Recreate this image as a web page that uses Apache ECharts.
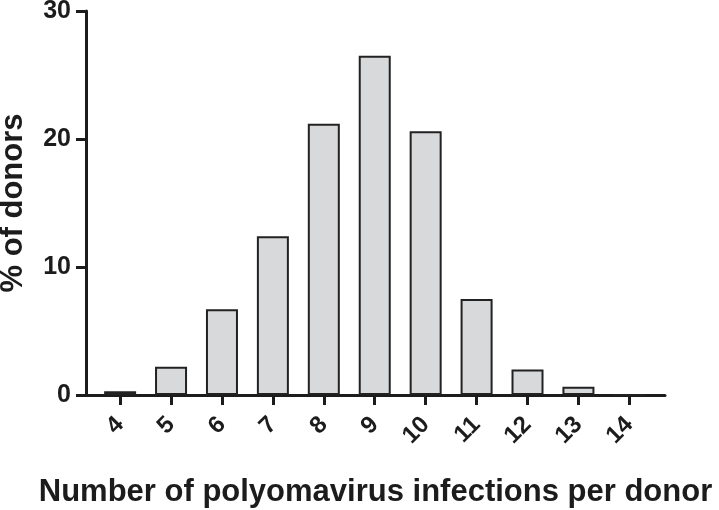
<!DOCTYPE html>
<html>
<head>
<meta charset="utf-8">
<script src="https://cdn.jsdelivr.net/npm/echarts@6/dist/echarts.min.js"></script>
<style>html,body{margin:0;padding:0;background:#fff;}#c{width:719px;height:510px;}</style>
</head>
<body>
<div id="c"></div>
<script>
const categories = [4, 5, 6, 7, 8, 9, 10, 11, 12, 13, 14];
const percentDonors = [0.3, 2.2, 6.7, 12.4, 21.2, 26.5, 20.6, 7.5, 2.0, 0.65, 0];
const yTicks = [0, 10, 20, 30];

const chart = echarts.init(document.getElementById('c'), null, {renderer: 'canvas'});
const font = '"Liberation Sans", Arial, sans-serif';
const ink = '#1c1c1c';
chart.setOption({
  animation: false,
  backgroundColor: '#fff',
  grid: {left: 86, right: 54, top: 11, bottom: 115, containLabel: false, outerBoundsMode: 'none'},
  xAxis: {
    type: 'value',
    min: 3.33,
    max: 14.7,
    name: 'Number of polyomavirus infections per donor',
    nameLocation: 'middle',
    nameGap: 82,
    nameTextStyle: {fontFamily: font, fontWeight: 'bold', fontSize: 31, color: ink},
    axisLine: {show: true, onZero: false, lineStyle: {color: ink, width: 3}},
    axisTick: {show: true, customValues: categories, length: 10, lineStyle: {color: ink, width: 3}},
    axisLabel: {show: true, customValues: categories, rotate: 45, margin: 26, fontFamily: font, fontWeight: 'bold', fontSize: 24, color: ink, showMinLabel: true, showMaxLabel: true},
    splitLine: {show: false}
  },
  yAxis: {
    type: 'value',
    min: 0,
    max: 30,
    interval: 10,
    name: '% of donors',
    nameLocation: 'middle',
    nameGap: 57,
    nameTextStyle: {fontFamily: font, fontWeight: 'bold', fontSize: 31, color: ink},
    axisLine: {show: true, lineStyle: {color: ink, width: 3}},
    axisTick: {show: true, length: 10, lineStyle: {color: ink, width: 3}},
    axisLabel: {margin: 15, fontFamily: font, fontWeight: 'bold', fontSize: 25, color: ink,
      formatter: v => yTicks.includes(v) ? String(v) : ''},
    splitLine: {show: false}
  },
  series: [{
    type: 'bar',
    data: categories.map((c, i) => [c, percentDonors[i]]),
    barWidth: 32,
    itemStyle: {color: '#d8d9db', borderColor: '#222', borderWidth: 2}
  }]
});
</script>
</body>
</html>
